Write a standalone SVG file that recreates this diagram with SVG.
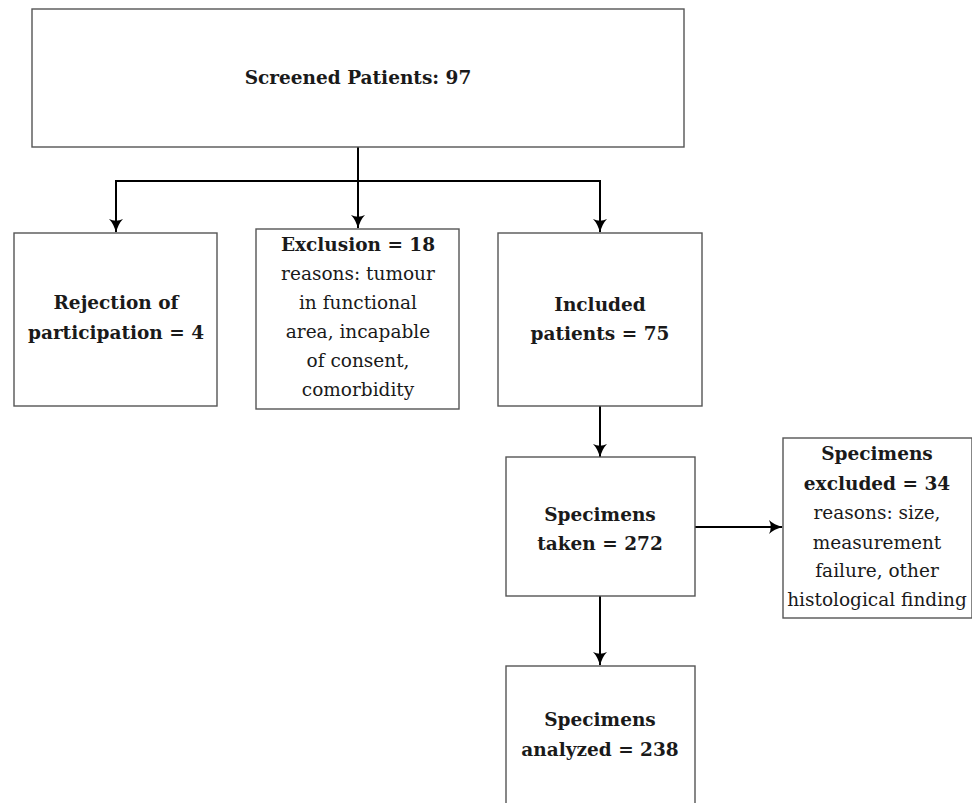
<svg xmlns="http://www.w3.org/2000/svg" width="972" height="803" viewBox="0 0 972 803">
<style>
.box{fill:#fff;stroke:#555;stroke-width:1.4}
.t{font-family:"DejaVu Serif","Liberation Serif",serif;font-size:18.5px;fill:#1a1a1a;text-anchor:middle}
.b{font-weight:bold}
.c{fill:none;stroke:#000;stroke-width:2}
</style>
<defs>
<marker id="ah" viewBox="0 0 14 14" refX="13" refY="7" markerWidth="14" markerHeight="14" markerUnits="userSpaceOnUse" orient="auto">
<path d="M0,0 Q5,5 14,7 Q5,9 0,14 Q3.5,7 0,0 Z" fill="#000"/>
</marker>
</defs>
<rect width="972" height="803" fill="#fff"/>
<g id="connectors">
<line class="c" x1="358" y1="147" x2="358" y2="228" marker-end="url(#ah)"/>
<polyline class="c" points="116,232 116,181 600,181 600,232" marker-end="url(#ah)"/>
<path class="c" d="M116,181 L116,232" marker-end="url(#ah)"/>
<line class="c" x1="600" y1="406" x2="600" y2="457" marker-end="url(#ah)"/>
<line class="c" x1="695" y1="527" x2="782" y2="527" marker-end="url(#ah)"/>
<line class="c" x1="600" y1="596" x2="600" y2="665" marker-end="url(#ah)"/>
</g>
<g id="screened">
<rect class="box" x="32" y="9" width="652" height="138"/>
<text class="t b" x="358" y="84">Screened Patients: 97</text>
</g>
<g id="rejection">
<rect class="box" x="14" y="233" width="203" height="173"/>
<text class="t b" x="116" y="309">Rejection of</text>
<text class="t b" x="116" y="339">participation = 4</text>
</g>
<g id="exclusion">
<rect class="box" x="256" y="229" width="203" height="180"/>
<text class="t b" x="358" y="251">Exclusion = 18</text>
<text class="t" x="358" y="280">reasons: tumour</text>
<text class="t" x="358" y="309">in functional</text>
<text class="t" x="358" y="338">area, incapable</text>
<text class="t" x="358" y="367">of consent,</text>
<text class="t" x="358" y="396">comorbidity</text>
</g>
<g id="included">
<rect class="box" x="498" y="233" width="204" height="173"/>
<text class="t b" x="600" y="311">Included</text>
<text class="t b" x="600" y="340">patients = 75</text>
</g>
<g id="taken">
<rect class="box" x="506" y="457" width="189" height="139"/>
<text class="t b" x="600" y="521">Specimens</text>
<text class="t b" x="600" y="550">taken = 272</text>
</g>
<g id="excluded">
<rect class="box" x="783" y="438" width="189" height="180"/>
<text class="t b" x="877" y="460">Specimens</text>
<text class="t b" x="877" y="490">excluded = 34</text>
<text class="t" x="877" y="519">reasons: size,</text>
<text class="t" x="877" y="549">measurement</text>
<text class="t" x="877" y="577">failure, other</text>
<text class="t" x="877" y="606">histological finding</text>
</g>
<g id="analyzed">
<rect class="box" x="506" y="666" width="189" height="150"/>
<text class="t b" x="600" y="726">Specimens</text>
<text class="t b" x="600" y="756">analyzed = 238</text>
</g>
</svg>
